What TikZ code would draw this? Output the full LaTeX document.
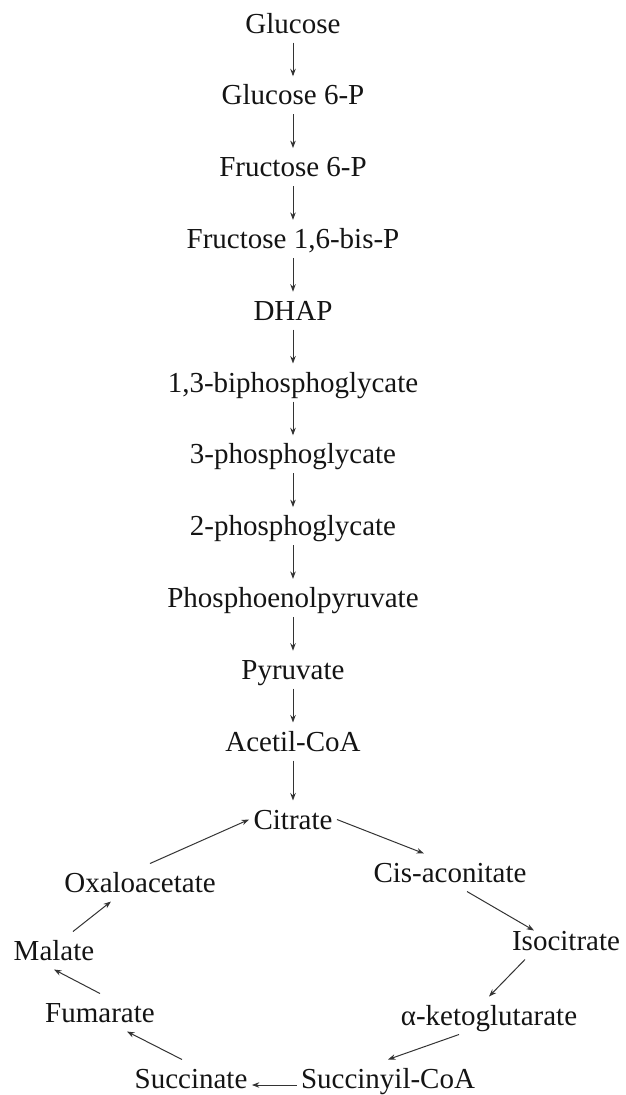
\documentclass[tikz,border=0pt]{standalone}
\usepackage{fontspec}
\setmainfont{Liberation Serif}
\usetikzlibrary{arrows.meta,positioning}

\begin{document}
\begin{tikzpicture}[
    x = 1pt, y = -1pt, % pixel-like units, y grows downwards
    node distance = 33.8pt, % gap between stacked metabolites
    line width = 1pt % line style
    ]

    \tikzset{every node/.style={
    font = \fontsize{29}{34}\selectfont,
    text = black!92,
    text height = 19pt,
    text depth = 0pt,
    inner xsep = 4pt,
    inner ysep = 9pt
    }}
    \tikzset{conv/.style={-{Stealth[length=7.5pt,width=5.5pt]}, draw=black!80}}

    \useasboundingbox (0,0) rectangle (625,1095);

    % glycolysis
    \node (glu) [anchor=base] at (293,33) {Glucose};
    \node (g6p) [below=of glu] {Glucose 6-P};
    \node (f6p) [below=of g6p] {Fructose 6-P};
    \node (fbp) [below=of f6p] {Fructose 1,6-bis-P};
    \node (dhap) [below=of fbp] {DHAP};
    \node (bpg) [below=of dhap] {1,3-biphosphoglycate};
    \node (pga) [below=of bpg] {3-phosphoglycate};
    \node (pgb) [below=of pga] {2-phosphoglycate};
    \node (pep) [below=of pgb] {Phosphoenolpyruvate};
    \node (pyr) [below=of pep] {Pyruvate};
    \node (acet) [below=of pyr] {Acetil-CoA};
    \node (cit) [below=40pt of acet] {Citrate};

    % krebs cycle
    \node (cis) [anchor=base] at (450,882) {Cis-aconitate};
    \node (iso) [anchor=base] at (566,950) {Isocitrate};
    \node (akg) [anchor=base] at (489,1025) {α-ketoglutarate};
    \node (scoa) [anchor=base] at (388,1088) {Succinyil-CoA};
    \node (succ) [anchor=base] at (191,1088) {Succinate};
    \node (fum) [anchor=base] at (100,1022) {Fumarate};
    \node (mal) [anchor=base] at (54,960) {Malate};
    \node (oxa) [anchor=base] at (140,892) {Oxaloacetate};

    \foreach \a/\b in {glu/g6p, g6p/f6p, f6p/fbp, fbp/dhap, dhap/bpg,
        bpg/pga, pga/pgb, pgb/pep, pep/pyr, pyr/acet, acet/cit}
        \draw[conv] (\a.south) -- (\b.north);

    \draw[conv] (cit.east) -- ([xshift=-26pt]cis.north);
    \draw[conv] ([xshift=17pt]cis.south) -- ([xshift=-32pt,yshift=-9pt]iso.north);
    \draw[conv] ([xshift=-41pt]iso.south) -- (akg.north);
    \draw[conv] ([xshift=-30pt]akg.south) -- (scoa.north);
    \draw[conv] ([yshift=3pt]scoa.base west) -- ([yshift=3pt]succ.base east);
    \draw[conv] ([xshift=-9pt]succ.north) -- ([xshift=27pt]fum.south);
    \draw[conv] (fum.north) -- (mal.south);
    \draw[conv] ([xshift=19pt]mal.north) -- ([xshift=-29pt]oxa.south);
    \draw[conv] ([xshift=10pt]oxa.north) -- (cit.west);
\end{tikzpicture}
\end{document}
